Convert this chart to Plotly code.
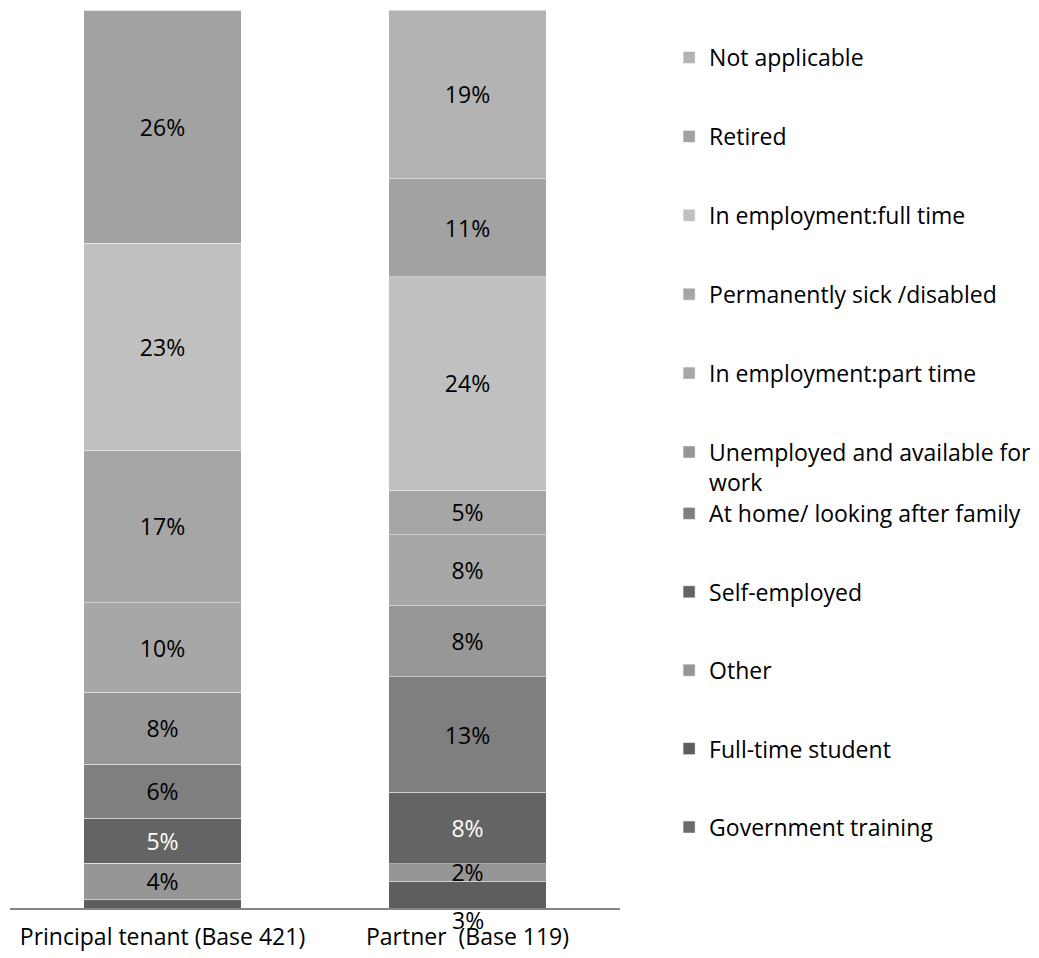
import plotly.graph_objects as go

FONT = 'Open Sans, sans-serif'

categories = ['Principal tenant (Base 421)', 'Partner \u00a0(Base 119)']

# stack order, bottom to top
series = [
    'Government training',
    'Full-time student',
    'Other',
    'Self-employed',
    'At home/ looking after family',
    'Unemployed and available for<br>work',
    'In employment:part time',
    'Permanently sick /disabled',
    'In employment:full time',
    'Retired',
    'Not applicable',
]
principal = [0, 1, 4, 5, 6, 8, 10, 17, 23, 26, 0]
partner   = [0, 3, 2, 8, 13, 8, 8, 5, 24, 11, 19]

colors = ['#6b6b6b', '#5e5e5e', '#969696', '#646464', '#7f7f7f', '#979797',
          '#a7a7a7', '#a6a6a6', '#c0c0c0', '#a2a2a2', '#b3b3b3']
text_colors = ['black', 'black', 'black', 'white', 'black', 'black',
               'black', 'black', 'black', 'black', 'black']

# the legend is split in two blocks, like the uneven spacing of the original
LOWER_LEGEND = {'Government training', 'Full-time student', 'Other',
                'Self-employed', 'At home/ looking after family'}


def _label(v):
    return f'{v}%' if v >= 2 else ''


fig = go.Figure()
for i, name in enumerate(series):
    vals = [principal[i], partner[i]]
    labels = [_label(v) for v in vals]
    if name == 'Full-time student':
        labels[1] = ''   # drawn below the axis instead
    fig.add_trace(go.Bar(
        name=name, x=categories, y=vals,
        marker=dict(color=colors[i], line=dict(color='rgba(255,255,255,0.45)', width=1)),
        text=labels, textposition='inside', insidetextanchor='middle',
        textfont=dict(size=23, color=text_colors[i], family=FONT),
        legendgroup=name, legendrank=len(series) - i,
        legend='legend2' if name in LOWER_LEGEND else 'legend',
    ))

fts = series.index('Full-time student')
fig.add_annotation(x=categories[1], y=0, yanchor='middle', yshift=-12,
                   text=f'{partner[fts]}%', showarrow=False,
                   font=dict(size=23, color='black', family=FONT))

_leg = dict(x=1.0805, xanchor='left', yanchor='top', traceorder='grouped',
            valign='top', font=dict(size=23, color='black', family=FONT),
            bgcolor='rgba(0,0,0,0)')

fig.update_layout(
    width=1031, height=950,
    paper_bgcolor='white', plot_bgcolor='white',
    font=dict(family=FONT, size=23, color='black'),
    margin=dict(l=2, r=419, t=2, b=50, autoexpand=False),
    barmode='stack', barnorm='percent', bargap=0.485,
    uniformtext=dict(minsize=23, mode='show'),
    showlegend=True,
    legend=dict(**_leg, y=0.971, tracegroupgap=46),
    legend2=dict(**_leg, y=0.4633, tracegroupgap=45.5),
    xaxis=dict(showline=True, linecolor='#868686', linewidth=1.5,
               showgrid=False, ticks='', ticklabelstandoff=8,
               tickfont=dict(size=23, color='black')),
    yaxis=dict(visible=False, range=[0, 100]),
)

fig.write_html('out.html')
